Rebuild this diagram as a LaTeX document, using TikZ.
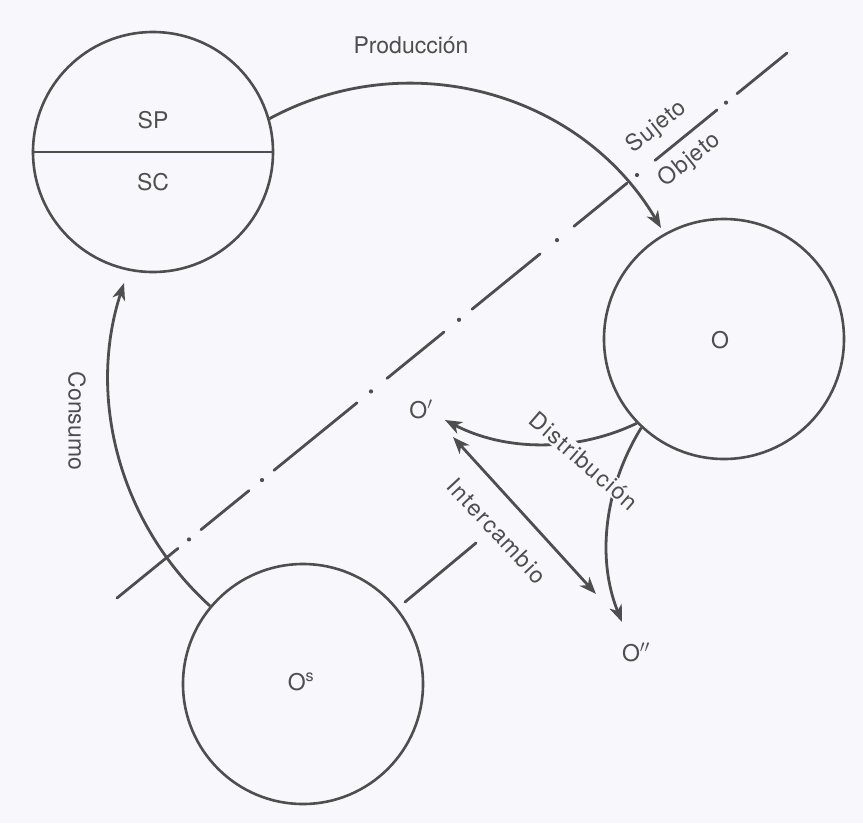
\documentclass[tikz,border=0pt]{standalone}
\usepackage{fontspec}
\setmainfont{TeX Gyre Heros}
\usetikzlibrary{arrows.meta}
\definecolor{bg}{RGB}{248,248,252}
\definecolor{ink}{RGB}{78,78,78}
\begin{document}
\begin{tikzpicture}[x=1pt,y=-1pt,
  ring/.style={circle,draw=ink,line width=2.6pt,minimum size=240pt,inner sep=0pt},
  lbl/.style={text=ink,font=\fontsize{23}{27}\selectfont,inner sep=1pt},
  wide/.style={font=\fontsize{23}{27}\selectfont\addfontfeatures{LetterSpace=6}},
  semi/.style={font=\fontsize{23}{27}\selectfont\addfontfeatures{LetterSpace=4}},
  flow/.style={draw=ink,line width=2.8pt,-{Stealth[length=17pt,width=13pt,inset=5pt]}},
  both/.style={draw=ink,line width=2.8pt,{Stealth[length=17pt,width=13pt,inset=5pt]}-{Stealth[length=17pt,width=13pt,inset=5pt]}},
  axis/.style={draw=ink,line width=2.8pt,line cap=round}]
\fill[fill=bg] (0,0) rectangle (863,823);
\useasboundingbox (0,0) rectangle (863,823);

% dash-dot dividing line
\foreach \a/\b in {117/178,201/249,274/357,387/444,472/540,574/627,655/717,737/787}
  \draw[axis] (\a,{598-0.8134*(\a-117)}) -- (\b,{598-0.8134*(\b-117)});
\foreach \d in {189,262,371,459,557,637,726}
  \fill[ink] (\d,{598-0.8134*(\d-117)}) circle (2.1pt);
\draw[axis] (405,602) -- (476,543);

% circles
\node[ring] (S) at (153,152) {};
\draw[ink,line width=2.6pt] (S.west) -- (S.east);
\node[lbl] (SP) at (153,120) {SP};
\node[lbl] (SC) at (153,182) {SC};
\node[ring] (O) at (724,339) {};
\node[lbl] (Olab) at (720,340) {O};
\node[ring] (Os) at (303,684) {};
\node[lbl] (Oslab) at (301,682) {O\textsuperscript{s}};

% free ends
\coordinate (Ptip) at (661,228);
\coordinate (Ctip) at (124,283);
\coordinate (D1tip) at (445,420);
\coordinate (D2tip) at (622,622);
\coordinate (Ia) at (453,437);
\coordinate (Ib) at (596,594);

% connectors
\draw[flow] (S.16.8) .. controls (408.3,43.7) and (580.9,92.3) .. (Ptip);
\draw[flow] (Os.140.3) .. controls (119.8,524.2) and (86.6,398.1) .. (Ctip);
\draw[flow] (O.224) .. controls (576,452.4) and (505,451.3) .. (D1tip);
\draw[flow] (O.227.9) .. controls (603.3,489.5) and (596.8,560) .. (D2tip);
\draw[both] (Ia) -- (Ib);

% labels
\node[lbl] (prod) at (411,45) {Producción};
\node[lbl,semi,rotate=38.5] (suj) at (657,127) {Sujeto};
\node[lbl,semi,rotate=38.5] (obj) at (690,160) {Objeto};
\node[lbl,rotate=-90] (cons) at (77,421) {Consumo};
\node[lbl,wide,rotate=-41,fill=bg] (dist) at (584,461) {Distribución};
\node[lbl,wide,rotate=-47] (inter) at (497,531) {Intercambio};
\node[lbl] (o1) at (421,409) {O$'$};
\node[lbl] (o2) at (636,652) {O$''$};
\end{tikzpicture}
\end{document}
